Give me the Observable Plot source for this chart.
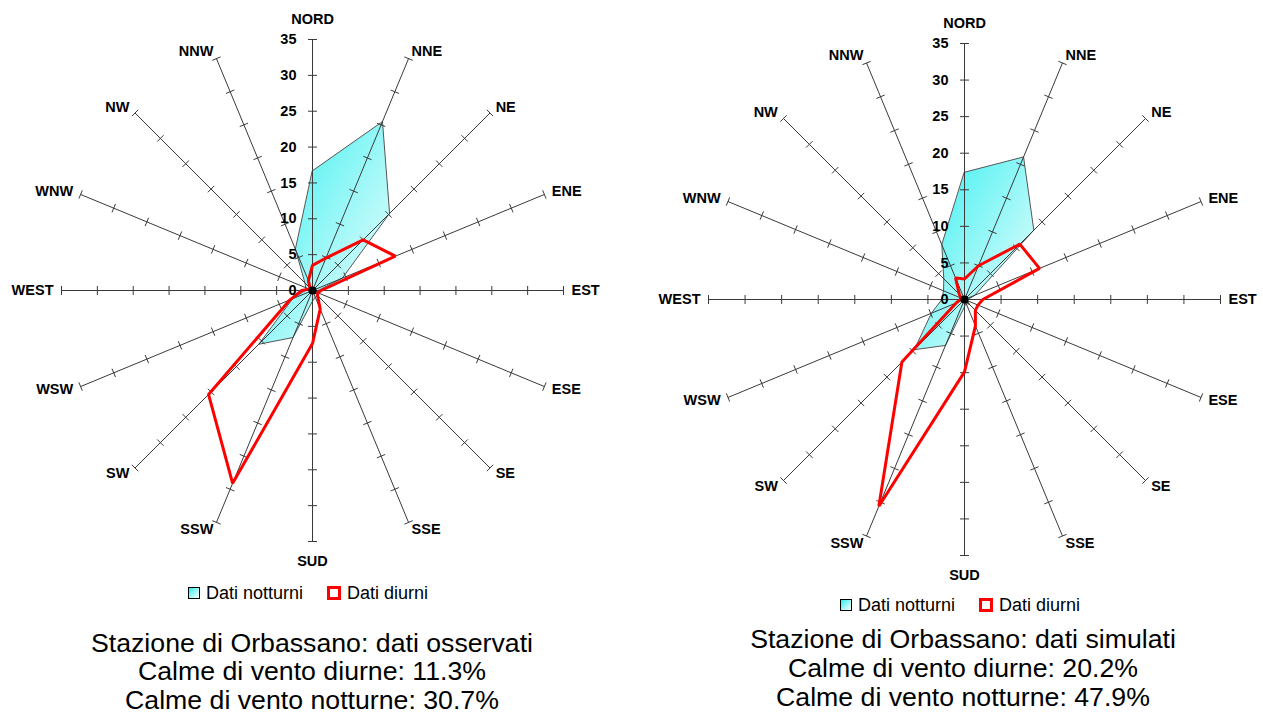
<!DOCTYPE html>
<html>
<head>
<meta charset="utf-8">
<script src="https://cdn.jsdelivr.net/npm/d3@7"></script>
<script src="https://cdn.jsdelivr.net/npm/@observablehq/plot@0.6"></script>
<style>
  body { margin: 0; background: #fff; font-family: Arial, "Liberation Sans", sans-serif; color: #000; }
  #page { position: relative; width: 1263px; height: 712px; overflow: hidden; background: #fff; }
  .chart { position: absolute; top: 0; }
  .legend { position: absolute; height: 20px; display: flex; align-items: center; font-size: 18px; white-space: nowrap; }
  .swatch-night { width: 10px; height: 10px; border: 1px solid #000; background: linear-gradient(135deg, #33eeee, #ffffff); }
  .swatch-day { width: 8px; height: 8px; border: 3px solid #ff0000; background: #fff; }
  .caption { position: absolute; width: 620px; text-align: center; font-size: 26.7px; line-height: 28px; white-space: nowrap; }
</style>
</head>
<body>
<div id="page"></div>
<script>
// Wind directions, clockwise from north
const directions = ["NORD", "NNE", "NE", "ENE", "EST", "ESE", "SE", "SSE",
                    "SUD", "SSW", "SW", "WSW", "WEST", "WNW", "NW", "NNW"];
// Radial scale labels (frequency, %)
const radialTicks = [0, 5, 10, 15, 20, 25, 30, 35];

// Orbassano, observed data (frequency % per direction)
const observedNight = [16.7, 25.5, 15.2, 4.5, 0.8, 0.5, 1.0, 1.0, 1.5, 7.1, 10.6, 3.0, 1.0, 1.0, 1.5, 6.2];
const observedDay   = [3.5, 4.9, 10.0, 12.5, 1.2, 0.8, 1.0, 2.8, 7.4, 29.1, 20.5, 3.4, 1.5, 0.5, 0.5, 1.5];

// Orbassano, simulated data (frequency % per direction)
const simulatedNight = [17.4, 21.1, 13.4, 1.5, 0.5, 0.5, 1.0, 0.5, 1.0, 6.8, 9.7, 4.9, 3.1, 3.1, 4.0, 8.1];
const simulatedDay   = [2.8, 5.0, 10.7, 11.1, 2.5, 2.0, 2.1, 3.9, 9.9, 30.6, 12.1, 1.2, 0.6, 0.5, 1.0, 3.2];

const legendLabels = ["Dati notturni", "Dati diurni"];
const observedCaption = ["Stazione di Orbassano: dati osservati", "Calme di vento diurne: 11.3%", "Calme di vento notturne: 30.7%"];
const simulatedCaption = ["Stazione di Orbassano: dati simulati", "Calme di vento diurne: 20.2%", "Calme di vento notturne: 47.9%"];

const page = document.getElementById("page");
const rMax = 35;
const step = 2 * Math.PI / directions.length;

function radar({left, width, height, cx, cy, radius, night, day, gradientId}) {
  const pxPerUnit = radius / rMax;
  const half = 4.5 / pxPerUnit;               // half tick length, in data units
  const dirs = directions.map((name, i) => ({name, s: Math.sin(i * step), c: Math.cos(i * step)}));

  const spokes = dirs.map(d => ({x1: 0, y1: 0, x2: rMax * d.s, y2: rMax * d.c}));
  const ticks = dirs.flatMap(d => radialTicks.filter(v => v > 0).map(v => ({
    x1: v * d.s + half * d.c, y1: v * d.c - half * d.s,
    x2: v * d.s - half * d.c, y2: v * d.c + half * d.s
  })));
  const labels = dirs.map(d => {
    const off = Math.abs(d.s) < 0.01 ? 20 : 8;
    const r = rMax + off / pxPerUnit;
    return {name: d.name, x: r * d.s, y: r * d.c, side: d.s > 0.01 ? "start" : d.s < -0.01 ? "end" : "middle"};
  });
  const toPoints = values => values.map((v, i) => ({x: v * dirs[i].s, y: v * dirs[i].c}));

  const font = {fontSize: 14.5, fontWeight: "bold", fill: "#000"};

  const chart = Plot.plot({
    width, height,
    margin: 0,
    style: {fontFamily: "Arial, 'Liberation Sans', sans-serif", background: "transparent", overflow: "visible"},
    x: {domain: [-rMax, rMax], range: [cx - radius, cx + radius], axis: null},
    y: {domain: [-rMax, rMax], range: [cy + radius, cy - radius], axis: null},
    marks: [
      () => {
        const defs = d3.create("svg:defs");
        const g = defs.append("linearGradient").attr("id", gradientId)
          .attr("x1", 0).attr("y1", 0).attr("x2", 1).attr("y2", 1);
        g.append("stop").attr("offset", 0).attr("stop-color", "#2eefef");
        g.append("stop").attr("offset", 1).attr("stop-color", "#ffffff");
        return defs.node();
      },
      Plot.line(toPoints(night), {x: "x", y: "y", curve: "linear-closed", fill: `url(#${gradientId})`, stroke: "#555", strokeWidth: 1}),
      Plot.link(spokes, {x1: "x1", y1: "y1", x2: "x2", y2: "y2", stroke: "#3a3a3a", strokeWidth: 1}),
      Plot.link(ticks, {x1: "x1", y1: "y1", x2: "x2", y2: "y2", stroke: "#3a3a3a", strokeWidth: 1}),
      Plot.line(toPoints(day), {x: "x", y: "y", curve: "linear-closed", stroke: "#ff0000", strokeWidth: 3, strokeLinejoin: "miter"}),
      Plot.dot([{x: 0, y: 0}], {x: "x", y: "y", r: 4, fill: "#000", stroke: null}),
      Plot.text(radialTicks, {x: 0, y: d => d, text: d => String(d), textAnchor: "end", dx: -16, ...font}),
      Plot.text(labels.filter(d => d.side === "start"), {x: "x", y: "y", text: "name", textAnchor: "start", ...font}),
      Plot.text(labels.filter(d => d.side === "end"), {x: "x", y: "y", text: "name", textAnchor: "end", ...font}),
      Plot.text(labels.filter(d => d.side === "middle"), {x: "x", y: "y", text: "name", textAnchor: "middle", ...font})
    ]
  });
  chart.classList.add("chart");
  chart.style.left = left + "px";
  page.appendChild(chart);
}

function legend(left, centerY) {
  const el = document.createElement("div");
  el.className = "legend";
  el.style.left = left + "px";
  el.style.top = (centerY - 10) + "px";
  el.innerHTML = `<span class="swatch-night"></span><span style="margin-left:6px">${legendLabels[0]}</span>` +
                 `<span class="swatch-day" style="margin-left:24px"></span><span style="margin-left:6px">${legendLabels[1]}</span>`;
  page.appendChild(el);
}

function caption(lines, centerX, centerYs) {
  lines.forEach((text, i) => {
    const el = document.createElement("div");
    el.className = "caption";
    el.style.left = (centerX - 310) + "px";
    el.style.top = (centerYs[i] - 14) + "px";
    el.textContent = text;
    page.appendChild(el);
  });
}

radar({left: 0, width: 631, height: 580, cx: 312, cy: 290, radius: 251,
       night: observedNight, day: observedDay, gradientId: "night-observed"});
radar({left: 631, width: 632, height: 590, cx: 333, cy: 299, radius: 256,
       night: simulatedNight, day: simulatedDay, gradientId: "night-simulated"});

legend(188, 593);
legend(840, 605);
caption(observedCaption, 312, [643, 671, 700]);
caption(simulatedCaption, 963, [639, 668, 697]);
</script>
</body>
</html>
